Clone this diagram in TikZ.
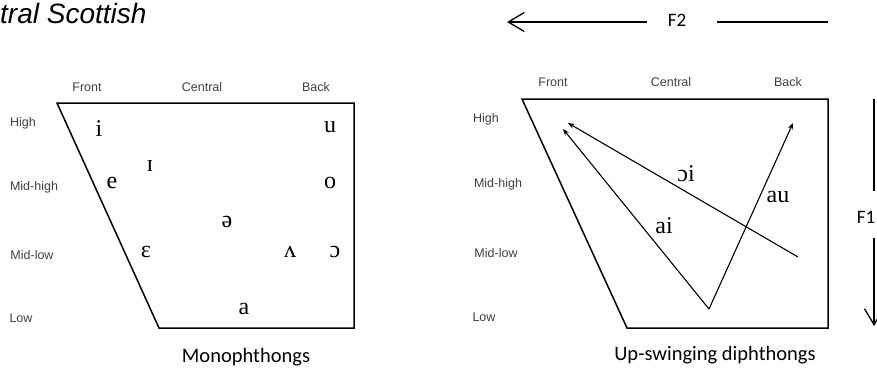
\documentclass[tikz,border=0pt]{standalone}
\usepackage{fontspec}
\setmainfont{Liberation Sans}
\newfontfamily\ipafont{Liberation Serif}
\newfontfamily\calfont{Carlito}
\usetikzlibrary{arrows.meta}
\begin{document}
\begin{tikzpicture}[x=1pt,y=-1pt,
  lab/.style={font=\fontsize{12.5}{14}\selectfont, text=black!75, inner sep=1pt},
  vow/.style={font=\ipafont\fontsize{24}{26}\selectfont, inner sep=1pt},
  capt/.style={font=\calfont\fontsize{20.5}{24}\selectfont, inner sep=1pt},
  axlab/.style={font=\calfont\fontsize{19}{22}\selectfont, inner sep=1pt},
  chart/.style={line width=1.5pt, line join=miter},
  diph/.style={line width=1.1pt, -{Stealth[length=6.5pt,width=5pt]}},
  axis/.style={line width=1.3pt},
  axhead/.style={-{Straight Barb[length=16pt,width=19pt,line width=1.3pt]}}]
\useasboundingbox (0,0) rectangle (877,369);

% title
\node[anchor=base west, font=\itshape\fontsize{28}{32}\selectfont, inner sep=0pt] (title) at (0,24) {tral Scottish};

% ---------- left chart ----------
\coordinate (L1) at (57,103);
\coordinate (L2) at (354,103);
\coordinate (L3) at (354,328);
\coordinate (L4) at (159,328);
\draw[chart] (L1) -- (L2) -- (L3) -- (L4) -- cycle;

\node[lab] (lfront) at (87,87) {Front};
\node[lab] (lcentral) at (202,87) {Central};
\node[lab] (lback) at (316,87) {Back};
\node[lab] (lhigh) at (23,123) {High};
\node[lab] (lmidhigh) at (34,187) {Mid-high};
\node[lab] (lmidlow) at (32,255) {Mid-low};
\node[lab] (llow) at (21,318) {Low};

\node[vow] (vi) at (99,129) {i};
\node[vow] (vu) at (330,127) {u};
\node[vow] (vI) at (150,166) {ɪ};
\node[vow] (ve) at (112,183) {e};
\node[vow] (vo) at (330,183) {o};
\node[vow] (vschwa) at (227,222) {ə};
\node[vow] (veps) at (146,252) {ɛ};
\node[vow] (vwedge) at (290,252) {ʌ};
\node[vow] (vopeno) at (335,252) {ɔ};
\node[vow] (va) at (244,309) {a};

\node[capt] (mono) at (246,357) {Monophthongs};

% ---------- right chart ----------
\coordinate (R1) at (522,99);
\coordinate (R2) at (828,99);
\coordinate (R3) at (828,328);
\coordinate (R4) at (627,328);
\draw[chart] (R1) -- (R2) -- (R3) -- (R4) -- cycle;

\node[lab] (rfront) at (553,82) {Front};
\node[lab] (rcentral) at (671,82) {Central};
\node[lab] (rback) at (788,82) {Back};
\node[lab] (rhigh) at (486,119) {High};
\node[lab] (rmidhigh) at (498,184) {Mid-high};
\node[lab] (rmidlow) at (496,253) {Mid-low};
\node[lab] (rlow) at (484,317) {Low};

\coordinate (aStart) at (709,309);
\coordinate (aiEnd) at (563,129);
\coordinate (auEnd) at (793,123);
\coordinate (oiStart) at (798,257);
\coordinate (oiEnd) at (568,123);
\draw[diph] (aStart) -- (aiEnd);
\draw[diph] (aStart) -- (auEnd);
\draw[diph] (oiStart) -- (oiEnd);

\node[vow] (loi) at (686,174) {ɔi};
\node[vow] (lau) at (778,197) {au};
\node[vow] (lai) at (664,226) {ai};

\node[capt] (diphcap) at (715,355) {Up-swinging diphthongs};

% ---------- axes ----------
\node[axlab] (f2) at (677,20) {F2};
\coordinate (f2a) at (647,22);
\coordinate (f2b) at (507,22);
\coordinate (f2c) at (717,22);
\coordinate (f2d) at (828,22);
\draw[axis, axhead] (f2a) -- (f2b);
\draw[axis] (f2c) -- (f2d);

\node[axlab, anchor=east] (f1) at (876.5,217) {F1};
\coordinate (f1a) at (874,99);
\coordinate (f1b) at (874,191);
\coordinate (f1c) at (874,238);
\coordinate (f1d) at (874,326);
\draw[axis] (f1a) -- (f1b);
\draw[axis, axhead] (f1c) -- (f1d);
\end{tikzpicture}
\end{document}
